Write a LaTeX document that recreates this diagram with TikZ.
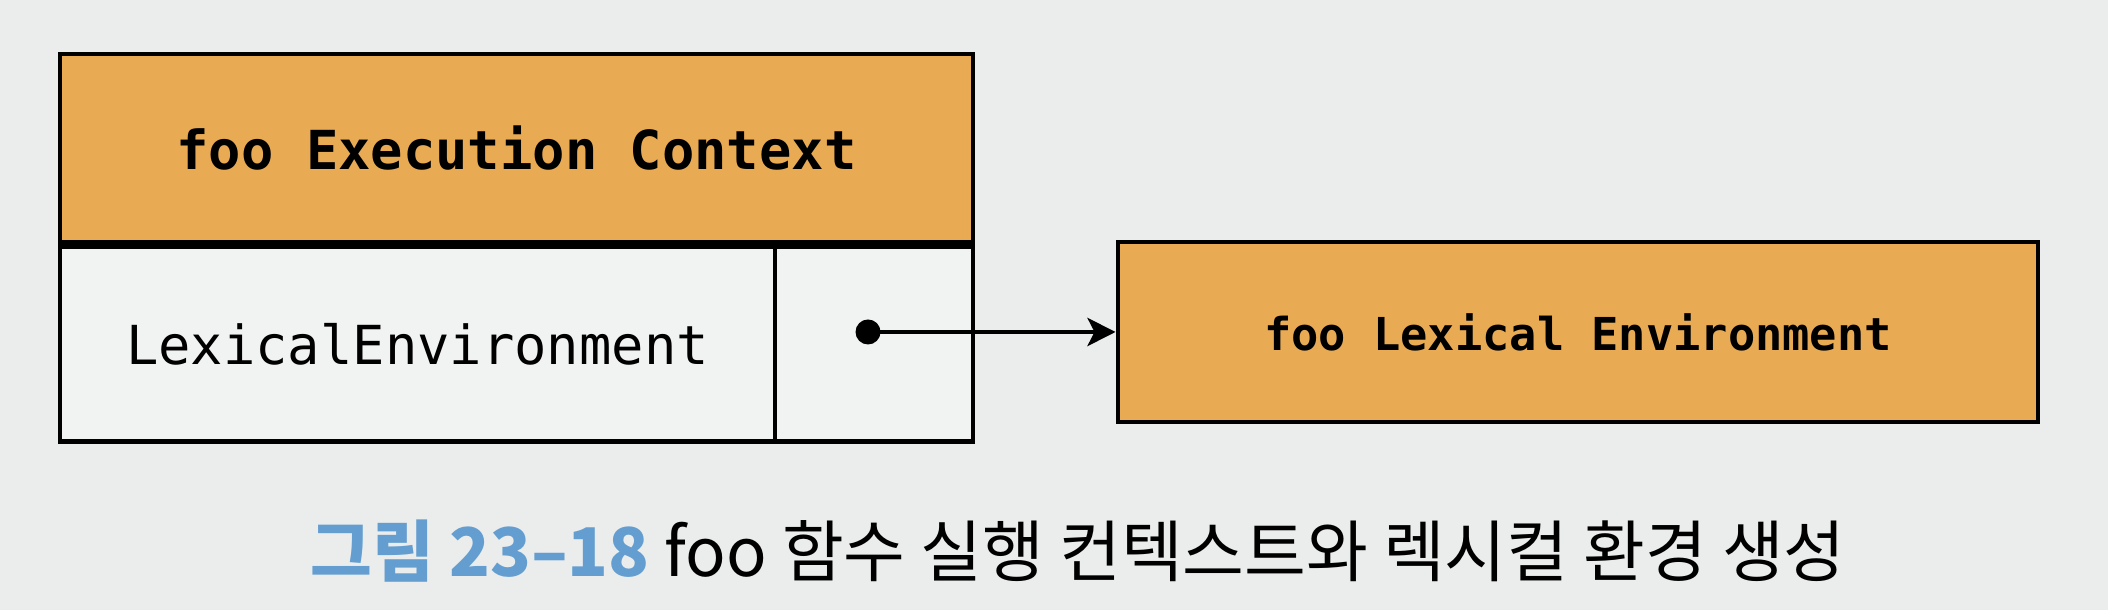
\documentclass[tikz,border=0pt]{standalone}
\usepackage{fontspec}
\usepackage{xcolor}
\usetikzlibrary{arrows.meta, positioning}
\newfontfamily\codefont{DejaVu Sans Mono}
\newfontfamily\cjk{Noto Sans CJK KR}
\definecolor{ctxorange}{RGB}{233,170,84}
\definecolor{pagegray}{RGB}{235,237,237}
\definecolor{cellgray}{RGB}{241,242,242}
\definecolor{capblue}{RGB}{100,158,208}
\tikzset{
  ec_box/.style = {rectangle, draw=black, line width=1.4pt, inner sep=0pt,
    align=center},
  ec_head/.style = {ec_box, fill=ctxorange,
    font=\codefont\bfseries\fontsize{15.3}{18}\selectfont},% execution context, titre
  ec_cell/.style = {ec_box, fill=cellgray,
    font=\codefont\fontsize{15.3}{18}\selectfont},% execution context, case
  le_box/.style = {ec_box, fill=ctxorange,
    font=\codefont\bfseries\fontsize{12.9}{15}\selectfont},% lexical environment
  ref_dot/.style = {circle, fill=black, inner sep=0pt, minimum size=2.5mm}
}
\begin{document}
\begin{tikzpicture}
\fill[pagegray] (0,0) rectangle (21.08,6.10);
\useasboundingbox (0,0) rectangle (21.08,6.10);

\node[ec_head, minimum width=91.3mm, minimum height=18.8mm] (head) at (5.165,4.62) {foo Execution Context};
\node[ec_cell, minimum width=71.5mm, minimum height=19.5mm, anchor=north west] (lexenv) at (head.south west) {LexicalEnvironment};
\node[ec_cell, minimum width=19.8mm, minimum height=19.5mm, anchor=north east] (outer) at (head.south east) {};
\node[le_box, minimum width=92mm, minimum height=18mm] (fooenv) at (15.78,2.78) {foo Lexical Environment};

\node[ref_dot] (ptr) at (8.68,2.78) {};
\draw[line width=1.4pt, -{Stealth[length=2.8mm, width=2.8mm, inset=0.7mm]}] (ptr.center) -- (fooenv.west);

\node[font=\cjk\fontsize{19.1}{23}\selectfont] (caption) at (10.78,0.59)
  {{\color{capblue}\bfseries 그림 23–18}\ foo 함수 실행 컨텍스트와 렉시컬 환경 생성};
\end{tikzpicture}
\end{document}
